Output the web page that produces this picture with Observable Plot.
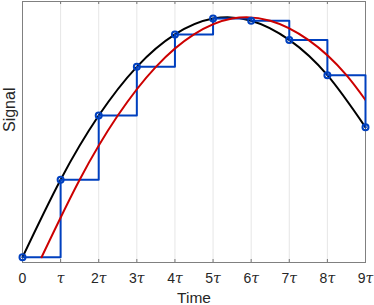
<!DOCTYPE html>
<html>
<head>
<meta charset="utf-8">
<script src="https://cdn.jsdelivr.net/npm/d3@7"></script>
<script src="https://cdn.jsdelivr.net/npm/@observablehq/plot@0.6"></script>
<style>
  html, body { margin: 0; padding: 0; background: #fff; }
  #chart svg { display: block; }
</style>
</head>
<body>
<div id="chart"></div>
<script>
const sampleTimes = [0, 1, 2, 3, 4, 5, 6, 7, 8, 9];
const sampleValues = [0, 0.323, 0.590, 0.793, 0.928, 0.994, 0.985, 0.905, 0.758, 0.541];
// Delay of the reconstructed (red) signal, in tau
const delay = 0.5;
// Tick labels
const tickValues = [0, 1, 2, 3, 4, 5, 6, 7, 8, 9];
const tickLabels = ["0", "τ", "2τ", "3τ", "4τ", "5τ", "6τ", "7τ", "8τ", "9τ"];
const gridValues = [1, 2, 3, 4, 5, 6, 7, 8];

const samples = sampleTimes.map((t, i) => ({t, v: sampleValues[i]}));
const delayed = samples.map(d => ({t: d.t + delay, v: d.v}));

const blue = "#0040bf";
const red = "#cc0000";
const axisColor = "#262626";

const chart = Plot.plot({
  width: 374,
  height: 305,
  marginLeft: 22,
  marginRight: 9,
  marginTop: 1,
  marginBottom: 43,
  style: {fontFamily: "'Liberation Sans', Arial, sans-serif", color: axisColor, background: "#fff"},
  x: {domain: [0, 9], axis: null},
  y: {domain: [-0.022, 1.065], axis: null},
  marks: [
    Plot.gridX(gridValues, {stroke: "#000", strokeOpacity: 0.1}),
    Plot.ruleX(tickValues, {stroke: axisColor, strokeOpacity: 0.6, insetTop: 258}),
    Plot.ruleX(tickValues, {stroke: axisColor, strokeOpacity: 0.6, insetBottom: 258}),
    Plot.frame({stroke: "#808080", strokeWidth: 1}),
    Plot.axisX(tickValues, {
      anchor: "bottom",
      tickSize: 0,
      tickPadding: 11,
      fontSize: 14,
      tickFormat: (d, i) => tickLabels[i],
      label: null
    }),
    Plot.text(["Time"], {frameAnchor: "bottom", dy: 36, fontSize: 15.5, lineAnchor: "middle", fill: axisColor}),
    Plot.text(["Signal"], {frameAnchor: "left", dx: -13, rotate: -90, fontSize: 16, lineAnchor: "middle", fill: axisColor}),
    Plot.line(samples, {x: "t", y: "v", curve: "natural", stroke: "#000", strokeWidth: 2}),
    Plot.line(samples, {x: "t", y: "v", curve: "step-after", stroke: blue, strokeWidth: 2}),
    Plot.line(delayed, {x: "t", y: "v", curve: "natural", stroke: red, strokeWidth: 2, clip: true}),
    Plot.dot(samples, {x: "t", y: "v", r: 3, stroke: blue, strokeWidth: 2, fill: "none"})
  ]
});

// Italic tau in tick labels
chart.querySelectorAll('g[aria-label="x-axis tick label"] text').forEach(t => {
  const s = t.textContent;
  if (s.includes("τ")) {
    const num = s.replace("τ", "");
    t.textContent = "";
    if (num) {
      const a = document.createElementNS("http://www.w3.org/2000/svg", "tspan");
      a.textContent = num;
      t.appendChild(a);
    }
    const b = document.createElementNS("http://www.w3.org/2000/svg", "tspan");
    b.textContent = "τ";
    b.setAttribute("font-style", "italic");
    b.setAttribute("font-family", "'DejaVu Serif', 'Liberation Serif', serif");
    t.appendChild(b);
  }
});

document.getElementById("chart").appendChild(chart);
</script>
</body>
</html>
